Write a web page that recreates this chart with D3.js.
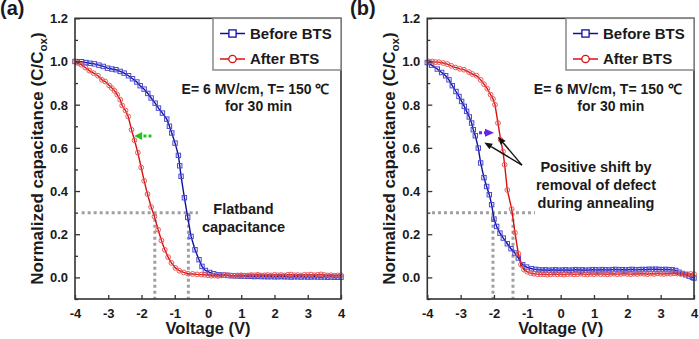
<!DOCTYPE html>
<html><head><meta charset="utf-8">
<script src="https://cdn.jsdelivr.net/npm/d3@7/dist/d3.min.js"></script>
<style>
html,body{margin:0;padding:0;background:#fff;}
svg text{font-family:"Liberation Sans",Arial,sans-serif;font-weight:bold;fill:#1a1a1a;}
</style></head>
<body>
<svg id="chart" width="699" height="339"></svg>
<script>
// ---------- data ----------
const xTicks = [-4,-3,-2,-1,0,1,2,3,4];
const xTickLabels = ["-4","-3","-2","-1","0","1","2","3","4"];
const yTicks = [0,0.2,0.4,0.6,0.8,1.0,1.2];
const yTickLabels = ["0.0","0.2","0.4","0.6","0.8","1.0","1.2"];
const yMinorTicks = [-0.1,0.1,0.3,0.5,0.7,0.9,1.1];
const seriesNames = ["Before BTS","After BTS"];

// Panel (a): [voltage, C/Cox]
const beforeA = [[-4.00,1.000],[-3.93,0.999],[-3.80,0.999],[-3.67,0.995],[-3.55,0.992],[-3.42,0.989],[-3.28,0.983],[-3.15,0.977],[-3.02,0.969],[-2.89,0.965],[-2.77,0.962],[-2.64,0.954],[-2.52,0.946],[-2.39,0.934],[-2.27,0.920],[-2.14,0.905],[-2.04,0.888],[-1.92,0.872],[-1.81,0.852],[-1.71,0.831],[-1.59,0.807],[-1.49,0.784],[-1.37,0.761],[-1.24,0.733],[-1.16,0.700],[-1.09,0.669],[-0.99,0.622],[-0.89,0.565],[-0.85,0.517],[-0.81,0.468],[-0.71,0.369],[-0.61,0.278],[-0.51,0.190],[-0.39,0.128],[-0.27,0.082],[-0.18,0.051],[-0.08,0.032],[0.05,0.023],[0.17,0.017],[0.32,0.012],[0.47,0.011],
[0.6,0.009],[0.7,0.008],[0.8,0.008],[0.9,0.007],[1.0,0.006],[1.1,0.006],[1.2,0.005],[1.3,0.005],[1.4,0.004],[1.5,0.005],[1.6,0.004],[1.7,0.004],[1.8,0.003],[1.9,0.004],[2.0,0.003],[2.1,0.003],[2.2,0.004],[2.3,0.003],[2.4,0.003],[2.5,0.002],[2.6,0.003],[2.7,0.003],[2.8,0.002],[2.9,0.003],[3.0,0.002],[3.1,0.002],[3.2,0.003],[3.3,0.002],[3.4,0.002],[3.5,0.002],[3.6,0.001],[3.7,0.002],[3.8,0.001],[3.9,0.001],[4.0,0.001]];
const afterA = [[-4.00,1.000],[-3.91,0.993],[-3.81,0.985],[-3.69,0.972],[-3.57,0.958],[-3.44,0.946],[-3.31,0.934],[-3.19,0.915],[-3.09,0.907],[-2.97,0.889],[-2.89,0.877],[-2.81,0.864],[-2.73,0.846],[-2.64,0.823],[-2.58,0.796],[-2.48,0.773],[-2.40,0.745],[-2.30,0.684],[-2.21,0.635],[-2.11,0.578],[-2.01,0.509],[-1.92,0.447],[-1.82,0.386],[-1.71,0.326],[-1.61,0.282],[-1.50,0.221],[-1.40,0.171],[-1.30,0.128],[-1.20,0.094],[-1.10,0.067],[-0.98,0.044],[-0.86,0.031],[-0.73,0.023],[-0.60,0.017],[-0.46,0.016],[-0.33,0.014],
[-0.2,0.013],[-0.1,0.012],[0.0,0.010],[0.1,0.008],[0.2,0.009],[0.3,0.007],[0.4,0.009],[0.5,0.011],[0.6,0.010],[0.7,0.008],[0.8,0.007],[0.9,0.009],[1.0,0.010],[1.1,0.008],[1.2,0.009],[1.3,0.011],[1.4,0.010],[1.5,0.012],[1.6,0.009],[1.7,0.010],[1.8,0.011],[1.9,0.009],[2.0,0.012],[2.1,0.010],[2.2,0.011],[2.3,0.009],[2.4,0.012],[2.5,0.013],[2.6,0.010],[2.7,0.011],[2.8,0.009],[2.9,0.012],[3.0,0.011],[3.1,0.013],[3.2,0.010],[3.3,0.012],[3.4,0.014],[3.5,0.011],[3.6,0.009],[3.7,0.010],[3.8,0.008],[3.9,0.009],[4.0,0.010]];

// Panel (b)
const beforeB = [[-4.00,0.995],[-3.87,0.983],[-3.70,0.965],[-3.57,0.949],[-3.45,0.934],[-3.35,0.915],[-3.25,0.888],[-3.14,0.861],[-3.05,0.838],[-2.97,0.815],[-2.89,0.792],[-2.82,0.769],[-2.74,0.743],[-2.67,0.715],[-2.62,0.684],[-2.56,0.656],[-2.47,0.599],[-2.40,0.530],[-2.30,0.462],[-2.22,0.421],[-2.14,0.383],[-2.07,0.337],[-2.00,0.270],[-1.92,0.236],[-1.82,0.205],[-1.72,0.182],[-1.60,0.156],[-1.49,0.133],[-1.37,0.113],[-1.27,0.090],[-1.14,0.059],[-1.02,0.048],[-0.87,0.040],
[-0.75,0.037],[-0.65,0.035],[-0.55,0.034],[-0.45,0.035],[-0.35,0.033],[-0.25,0.034],[-0.15,0.035],[-0.05,0.033],[0.05,0.034],[0.15,0.035],[0.25,0.033],[0.35,0.034],[0.45,0.036],[0.55,0.034],[0.65,0.035],[0.75,0.033],[0.85,0.034],[0.95,0.036],[1.05,0.035],[1.15,0.034],[1.25,0.036],[1.35,0.035],[1.45,0.034],[1.55,0.036],[1.65,0.037],[1.75,0.035],[1.85,0.036],[1.95,0.034],[2.05,0.036],[2.15,0.037],[2.25,0.035],[2.35,0.036],[2.45,0.037],[2.55,0.036],[2.65,0.038],[2.75,0.037],[2.85,0.038],[2.95,0.037],[3.05,0.036],[3.15,0.037],[3.25,0.036],[3.35,0.035],[3.45,0.032],[3.55,0.024],[3.65,0.018],[3.75,0.012],[3.85,0.006],[3.95,0.000],[4.00,-0.003]];
const afterB = [[-3.95,1.000],[-3.85,1.000],[-3.75,0.997],[-3.65,0.997],[-3.52,0.993],[-3.40,0.988],[-3.28,0.980],[-3.15,0.972],[-3.02,0.966],[-2.90,0.962],[-2.75,0.951],[-2.65,0.942],[-2.52,0.934],[-2.40,0.915],[-2.30,0.895],[-2.20,0.874],[-2.10,0.846],[-2.03,0.827],[-1.97,0.800],[-1.88,0.715],[-1.80,0.637],[-1.73,0.583],[-1.68,0.522],[-1.60,0.405],[-1.47,0.317],[-1.37,0.207],[-1.27,0.110],[-1.19,0.060],[-1.10,0.036],[-1.00,0.026],[-0.90,0.020],
[-0.8,0.017],[-0.7,0.015],[-0.6,0.014],[-0.5,0.015],[-0.4,0.013],[-0.3,0.014],[-0.2,0.016],[-0.1,0.014],[0.0,0.015],[0.1,0.013],[0.2,0.015],[0.3,0.016],[0.4,0.014],[0.5,0.015],[0.6,0.017],[0.7,0.015],[0.8,0.014],[0.9,0.016],[1.0,0.015],[1.1,0.017],[1.2,0.015],[1.3,0.016],[1.4,0.014],[1.5,0.016],[1.6,0.017],[1.7,0.015],[1.8,0.016],[1.9,0.018],[2.0,0.016],[2.1,0.015],[2.2,0.017],[2.3,0.016],[2.4,0.018],[2.5,0.017],[2.6,0.015],[2.7,0.018],[2.8,0.016],[2.9,0.019],[3.0,0.017],[3.1,0.016],[3.2,0.018],[3.3,0.017],[3.4,0.019],[3.5,0.018],[3.6,0.016],[3.7,0.017],[3.8,0.015],[3.9,0.016],[4.0,0.015]];

// Annotation values (data units)
const flatbandC = 0.3;
const flatbandA = {h:[-3.8,-0.3], v:[-1.6,-0.59]};
const flatbandB = {h:[-3.86,-0.77], v:[-2.03,-1.43]};
const shiftArrowA = [[-1.7,0.655],[-2.22,0.655]];
const shiftArrowB = [[-2.45,0.67],[-2.0,0.67]];
const pointerArrowsB = [[[-1.16,0.52],[-2.29,0.625]],[[-1.16,0.52],[-1.88,0.652]]];

// ---------- drawing ----------
const svg = d3.select("#chart");
const plotTop = 18.3, plotBottom = 299;
const panels = [
  {x0:75, x1:341, label:"(a)", lx:0, before:beforeA, after:afterA, fb:flatbandA},
  {x0:427.3, x1:694, label:"(b)", lx:350, before:beforeB, after:afterB, fb:flatbandB}
];
const blueLine="#1010a0", blueMark="#4848d4", redLine="#d81010", redMark="#e65a5a";

function arrowHead(g, p0, p1, len, half, color){
  const dx=p1[0]-p0[0], dy=p1[1]-p0[1], L=Math.hypot(dx,dy);
  const ux=dx/L, uy=dy/L, nx=-uy, ny=ux;
  const bx=p1[0]-ux*len, by=p1[1]-uy*len;
  g.append("polygon").attr("points",[[p1[0],p1[1]],[bx+nx*half,by+ny*half],[bx-nx*half,by-ny*half]].map(p=>p.join(",")).join(" ")).attr("fill",color);
  return [bx,by];
}

panels.forEach((P,i)=>{
  const x = d3.scaleLinear().domain([-4,4]).range([P.x0,P.x1]);
  const y = d3.scaleLinear().domain([-0.1,1.2]).range([plotBottom,plotTop]);
  const g = svg.append("g");

  // flatband guides
  const dot = {stroke:"#a0a0a0", w:3, dash:"3,3"};
  g.append("line").attr("x1",x(P.fb.h[0])).attr("x2",x(P.fb.h[1])).attr("y1",y(flatbandC)).attr("y2",y(flatbandC))
    .attr("stroke",dot.stroke).attr("stroke-width",dot.w).attr("stroke-dasharray",dot.dash);
  P.fb.v.forEach(v=>{
    g.append("line").attr("x1",x(v)).attr("x2",x(v)).attr("y1",y(flatbandC)).attr("y2",y(-0.1))
      .attr("stroke",dot.stroke).attr("stroke-width",dot.w).attr("stroke-dasharray",dot.dash);
  });

  const line = d3.line().x(d=>x(d[0])).y(d=>y(d[1]));
  // blue series
  g.append("path").datum(P.before).attr("d",line).attr("fill","none").attr("stroke",blueLine).attr("stroke-width",1.4);
  g.append("g").selectAll("rect").data(P.before).join("rect")
    .attr("x",d=>x(d[0])-2.2).attr("y",d=>y(d[1])-2.2).attr("width",4.4).attr("height",4.4)
    .attr("fill","none").attr("stroke",blueMark).attr("stroke-width",1);
  // red series
  g.append("path").datum(P.after).attr("d",line).attr("fill","none").attr("stroke",redLine).attr("stroke-width",1.4);
  g.append("g").selectAll("circle").data(P.after).join("circle")
    .attr("cx",d=>x(d[0])).attr("cy",d=>y(d[1])).attr("r",2.4)
    .attr("fill","none").attr("stroke",redMark).attr("stroke-width",1);

  // axes
  const xa = d3.axisBottom(x).tickValues(xTicks).tickSizeInner(-4).tickSizeOuter(0).tickFormat((d,k)=>xTickLabels[k]);
  const xg = g.append("g").attr("transform",`translate(0,${plotBottom})`).call(xa);
  xg.select(".domain").remove();
  xg.selectAll("line").attr("stroke","#333").attr("stroke-width",1.3);
  xg.selectAll("text").attr("y",null).attr("dy",null).attr("transform","translate(0,18.5)").attr("font-size","13px").attr("fill","#1a1a1a").attr("font-family",null);

  const ya = d3.axisLeft(y).tickValues(yTicks).tickSizeInner(-5).tickSizeOuter(0).tickFormat((d,k)=>yTickLabels[k]);
  const yg = g.append("g").attr("transform",`translate(${P.x0},0)`).call(ya);
  yg.select(".domain").remove();
  yg.selectAll("line").attr("stroke","#333").attr("stroke-width",1.3);
  yg.selectAll("text").attr("x",-7).attr("dy","0.34em").attr("font-size","13px").attr("fill","#1a1a1a").attr("font-family",null);
  const ym = d3.axisLeft(y).tickValues(yMinorTicks).tickSizeInner(-3).tickSizeOuter(0).tickFormat("");
  const ymg = g.append("g").attr("transform",`translate(${P.x0},0)`).call(ym);
  ymg.select(".domain").remove();
  ymg.selectAll("line").attr("stroke","#333").attr("stroke-width",1.3);

  // frame
  g.append("rect").attr("x",P.x0).attr("y",plotTop).attr("width",P.x1-P.x0).attr("height",plotBottom-plotTop)
    .attr("fill","none").attr("stroke","#333").attr("stroke-width",1.6);

  // axis titles
  g.append("text").attr("x",(P.x0+P.x1)/2).attr("y",334).attr("text-anchor","middle").attr("font-size","16.5px").text("Voltage (V)");
  const yl = g.append("text").attr("transform",`translate(${P.x0-32.5},${(plotTop+plotBottom)/2}) rotate(-90)`).attr("text-anchor","middle").attr("font-size","17px");
  yl.append("tspan").text("Normalized capacitance (C/C");
  yl.append("tspan").attr("font-size","11.5px").attr("dy","4").text("ox");
  yl.append("tspan").attr("dy","-4").text(")");

  // panel label
  g.append("text").attr("x",P.lx).attr("y",15).attr("font-size","20px").text(P.label);

  // legend
  const lx0 = P.x1-128, ly0 = plotTop, lh = 51.7;
  const lg = g.append("g");
  lg.append("rect").attr("x",lx0).attr("y",ly0).attr("width",P.x1-lx0).attr("height",lh).attr("fill","#fff").attr("stroke","#888").attr("stroke-width",1.5);
  const rows=[{n:seriesNames[0],c:blueLine,sq:true,y:33.5},{n:seriesNames[1],c:redLine,sq:false,y:59}];
  rows.forEach(r=>{
    lg.append("line").attr("x1",lx0+7).attr("x2",lx0+32).attr("y1",r.y).attr("y2",r.y).attr("stroke",r.c).attr("stroke-width",1.5);
    if(r.sq) lg.append("rect").attr("x",lx0+19.5-3.6).attr("y",r.y-3.6).attr("width",7.2).attr("height",7.2).attr("fill","#fff").attr("stroke",r.c).attr("stroke-width",1.3);
    else lg.append("circle").attr("cx",lx0+19.5).attr("cy",r.y).attr("r",3.7).attr("fill","#fff").attr("stroke",r.c).attr("stroke-width",1.3);
    lg.append("text").attr("x",lx0+37).attr("y",r.y+5.4).attr("font-size","15px").text(r.n);
  });

  // condition text
  g.append("text").attr("x",P.x0+180.5).attr("y",93.5).attr("text-anchor","middle").attr("font-size","14px").text("E= 6 MV/cm, T= 150 \u2103");
  g.append("text").attr("x",P.x0+183.5).attr("y",110.5).attr("text-anchor","middle").attr("font-size","14px").text("for 30 min");

  if(i===0){
    const a0=[x(shiftArrowA[0][0]),y(shiftArrowA[0][1])], a1=[x(shiftArrowA[1][0]),y(shiftArrowA[1][1])];
    const b = arrowHead(g,a0,a1,8,4,"#22c422");
    g.append("line").attr("x1",a0[0]).attr("y1",a0[1]).attr("x2",b[0]).attr("y2",b[1]).attr("stroke","#22c422").attr("stroke-width",3).attr("stroke-dasharray","3,2");
    g.append("text").attr("x",243.5).attr("y",213.5).attr("text-anchor","middle").attr("font-size","14.5px").text("Flatband");
    g.append("text").attr("x",243.5).attr("y",231.5).attr("text-anchor","middle").attr("font-size","14.5px").text("capacitance");
  } else {
    const a0=[x(shiftArrowB[0][0]),y(shiftArrowB[0][1])], a1=[x(shiftArrowB[1][0]),y(shiftArrowB[1][1])];
    const b = arrowHead(g,a0,a1,9,4,"#6a22f0");
    g.append("line").attr("x1",a0[0]).attr("y1",a0[1]).attr("x2",b[0]).attr("y2",b[1]).attr("stroke","#6a22f0").attr("stroke-width",3).attr("stroke-dasharray","3,2");
    pointerArrowsB.forEach(pa=>{
      const p0=[x(pa[0][0]),y(pa[0][1])], p1=[x(pa[1][0]),y(pa[1][1])];
      const bb = arrowHead(g,p0,p1,8,3.2,"#111");
      g.append("line").attr("x1",p0[0]).attr("y1",p0[1]).attr("x2",bb[0]).attr("y2",bb[1]).attr("stroke","#111").attr("stroke-width",1.4);
    });
    ["Positive shift by","removal of defect","during annealing"].forEach((t,k)=>{
      g.append("text").attr("x",596).attr("y",171.5+k*18).attr("text-anchor","middle").attr("font-size","14.5px").text(t);
    });
  }
});
</script>
</body></html>
